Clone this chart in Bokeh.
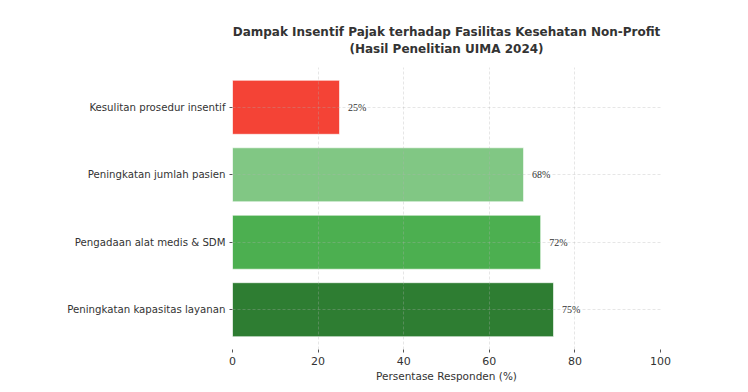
from bokeh.plotting import figure
from bokeh.models import ColumnDataSource, FactorRange, Range1d, FixedTicker, LabelSet, Title
from bokeh.embed import file_html
from bokeh.resources import INLINE

# Data (bottom to top)
categories = ["Peningkatan kapasitas layanan", "Pengadaan alat medis & SDM",
              "Peningkatan jumlah pasien", "Kesulitan prosedur insentif"]
values = [75, 72, 68, 25]
colors = ["#2e7d32", "#4caf50", "#81c784", "#f44336"]
x_ticks = [0, 20, 40, 60, 80, 100]
title_lines = ["Dampak Insentif Pajak terhadap Fasilitas Kesehatan Non-Profit",
               "(Hasil Penelitian UIMA 2024)"]

labels = [f"{v}%" for v in values]
label_x = [v + 2 for v in values]

src = ColumnDataSource(dict(cat=categories, val=values, color=colors, lab=labels, lx=label_x))

FONT = "DejaVu Sans"
TXT = "#333333"

p = figure(width=732, height=384, output_backend="svg", toolbar_location=None,
           y_range=FactorRange(factors=categories, range_padding=0.045),
           x_range=Range1d(0, 100),
           min_border_left=232, min_border_right=72, min_border_top=67, min_border_bottom=34)

p.hbar(y="cat", right="val", left=0, height=0.8, source=src, fill_color="color",
       line_color="white", line_width=1, line_alpha=0.6)

p.add_layout(LabelSet(x="lx", y="cat", text="lab", source=src, text_font=FONT,
                      text_font_size="10px", text_color=TXT, text_baseline="middle",
                      text_align="left"))

p.title.text = title_lines[0]
p.title.align = "center"
p.title.text_font = FONT
p.title.text_font_size = "12px"
p.title.text_font_style = "bold"
p.title.text_color = TXT
p.title.standoff = -22
p.add_layout(Title(text=title_lines[1], align="center", text_font=FONT, text_font_size="12px",
                   text_font_style="bold", text_color=TXT, standoff=24), "above")

p.outline_line_color = None
for ax in (p.xaxis[0], p.yaxis[0]):
    ax.axis_line_color = None
    ax.major_tick_line_color = "#555555"
    ax.major_tick_in = 0
    ax.major_tick_out = 3
    ax.minor_tick_line_color = None
    ax.major_label_text_font = FONT
    ax.major_label_text_color = TXT
    ax.major_label_standoff = 4

p.xaxis.ticker = FixedTicker(ticks=x_ticks)
p.xaxis.major_label_text_font_size = "11px"
p.yaxis.major_label_text_font_size = "10.2px"
p.xaxis.axis_label = "Persentase Responden (%)"
p.xaxis.axis_label_text_font = FONT
p.xaxis.axis_label_text_font_style = "normal"
p.xaxis.axis_label_text_font_size = "10.5px"
p.xaxis.axis_label_text_color = TXT
p.xaxis.axis_label_standoff = 2

for g in (p.xgrid[0], p.ygrid[0]):
    g.grid_line_color = "#b0b0b0"
    g.grid_line_alpha = 0.4
    g.grid_line_dash = "3 2"
    g.grid_line_width = 0.8
    g.level = "annotation"

open("out.html", "w").write(file_html(p, INLINE))
